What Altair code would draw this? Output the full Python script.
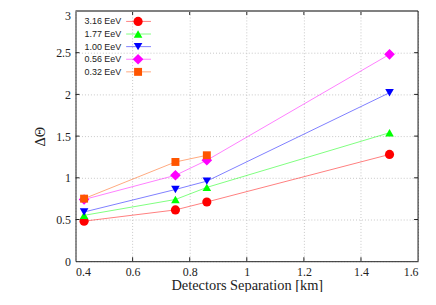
import altair as alt
import pandas as pd

# ---- data ----
sep_km = [0.43, 0.75, 0.86, 1.50]
series_names = ["3.16 EeV", "1.77 EeV", "1.00 EeV", "0.56 EeV", "0.32 EeV"]
dtheta_316 = [0.48, 0.615, 0.71, 1.28]
dtheta_177 = [0.55, 0.74, 0.885, 1.54]
dtheta_100 = [0.59, 0.86, 0.96, 2.02]
dtheta_056 = [0.74, 1.03, 1.21, 2.48]
dtheta_032 = [0.75, 1.19, 1.27]
x_ticks = [0.4, 0.6, 0.8, 1.0, 1.2, 1.4, 1.6]
y_ticks = [0.0, 0.5, 1.0, 1.5, 2.0, 2.5, 3.0]

colors = ["#ff0000", "#00ff00", "#0000ff", "#ff00ff", "#ff5500"]
shapes = ["circle", "triangle-up", "triangle-down", "diamond", "square"]
sizes = [85, 75, 75, 115, 64]

values = [dtheta_316, dtheta_177, dtheta_100, dtheta_056, dtheta_032]
rows = []
for name, vals in zip(series_names, values):
    for xv, yv in zip(sep_km, vals):
        rows.append({"sep": xv, "dtheta": yv, "series": name})
df = pd.DataFrame(rows)

W, H = 345, 252
serif = "'Times New Roman', 'Liberation Serif', serif"

xs = alt.Scale(domain=[0.4, 1.6], nice=False, zero=False)
ys = alt.Scale(domain=[0, 3], nice=False)

xenc = alt.X("sep:Q", scale=xs,
             axis=alt.Axis(values=x_ticks, format="~g", title="Detectors Separation [km]",
                           labelPadding=5, titlePadding=2))
yenc = alt.Y("dtheta:Q", scale=ys,
             axis=alt.Axis(values=y_ticks, format="~g", title="ΔΘ",
                           labelPadding=5, titlePadding=8,
                           labelBaseline={"expr": "datum.value == 3 ? 'top' : 'middle'"}))

color = alt.Color("series:N", scale=alt.Scale(domain=series_names, range=colors), legend=None)

lines = alt.Chart(df).mark_line(strokeWidth=1, opacity=0.5).encode(
    x=xenc, y=yenc, color=color, detail="series:N")

layers = [lines]
for name, c, s, sz in zip(series_names, colors, shapes, sizes):
    sub = df[df["series"] == name]
    layers.append(alt.Chart(sub).mark_point(filled=True, opacity=1, shape=s, size=sz, color=c,
                                            strokeWidth=0).encode(
        x=alt.X("sep:Q", scale=xs), y=alt.Y("dtheta:Q", scale=ys)))

# inward ticks on all four sides
xt = pd.DataFrame({"t": x_ticks[1:-1]})
yt = pd.DataFrame({"t": y_ticks[1:-1]})
tick_col = "#222"
layers.append(alt.Chart(xt).mark_rule(color=tick_col, strokeWidth=1).encode(
    x=alt.X("t:Q", scale=xs), y=alt.value(H), y2=alt.value(H - 4)))
layers.append(alt.Chart(xt).mark_rule(color=tick_col, strokeWidth=1).encode(
    x=alt.X("t:Q", scale=xs), y=alt.value(0), y2=alt.value(4)))
layers.append(alt.Chart(yt).mark_rule(color=tick_col, strokeWidth=1).encode(
    y=alt.Y("t:Q", scale=ys), x=alt.value(0), x2=alt.value(4)))
layers.append(alt.Chart(yt).mark_rule(color=tick_col, strokeWidth=1).encode(
    y=alt.Y("t:Q", scale=ys), x=alt.value(W), x2=alt.value(W - 4)))

# frame top (gray, thick) and right (black)
frame = pd.DataFrame({"k": [0]})
layers.append(alt.Chart(frame).mark_rule(color="#808080", strokeWidth=2).encode(
    x=alt.value(0), x2=alt.value(W), y=alt.value(0)))
layers.append(alt.Chart(frame).mark_rule(color="#111", strokeWidth=1).encode(
    x=alt.value(W), y=alt.value(0), y2=alt.value(H)))

# legend (top-left, label then line+symbol)
leg_y0, leg_dy = 10.5, 12.7
for i, (name, c, s, sz) in enumerate(zip(series_names, colors, shapes, sizes)):
    ly = leg_y0 + i * leg_dy
    ld = pd.DataFrame({"series": [name]})
    layers.append(alt.Chart(ld).mark_text(align="right", baseline="middle", font="Liberation Sans",
                                          fontSize=9, color="#222").encode(
        text="series:N", x=alt.value(46), y=alt.value(ly)))
    layers.append(alt.Chart(ld).mark_rule(color=c, strokeWidth=1, opacity=0.5).encode(
        x=alt.value(51), x2=alt.value(76), y=alt.value(ly)))
    layers.append(alt.Chart(ld).mark_point(filled=True, opacity=1, shape=s, size=sz, color=c,
                                           strokeWidth=0).encode(
        x=alt.value(63), y=alt.value(ly)))

chart = alt.layer(*layers).properties(
    width=W, height=H,
    background="white",
    autosize=alt.AutoSizeParams(type="none"),
    padding={"left": 68, "top": 2, "right": 10, "bottom": 30},
).configure_view(stroke=None).configure_axis(
    grid=True, gridColor="#c8c8c8", gridDash=[1, 2], gridWidth=1,
    ticks=False, domain=True, domainColor="#222", domainWidth=1,
    labelFont=serif, labelFontSize=12, labelColor="#222",
    titleFont=serif, titleFontSize=14.5, titleFontWeight="normal", titleColor="#222",
)

chart.save("out.html", embed_options={"renderer": "svg", "actions": False})
